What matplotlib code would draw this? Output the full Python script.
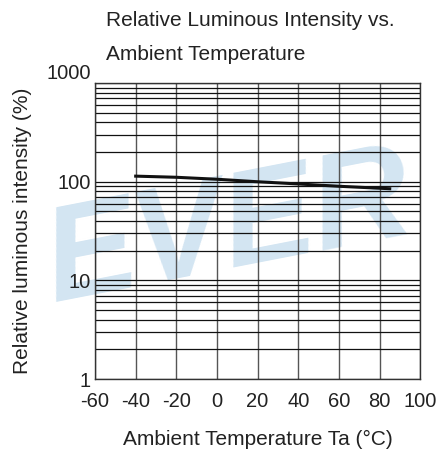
import numpy as np
import matplotlib.pyplot as plt
from matplotlib.ticker import LogLocator, NullFormatter

plt.rcParams['font.family'] = ['Liberation Sans', 'DejaVu Sans']

# values
temp = [-40, -20, 0, 20, 40, 60, 85]
intensity = [114, 111, 106, 100, 95, 90, 85]

x_ticks = [-60, -40, -20, 0, 20, 40, 60, 80, 100]
y_ticks = [1, 10, 100, 1000]
y_labels = ['1', '10', '100', '1000']

fig = plt.figure(figsize=(4.4, 4.54), dpi=100)

# watermark behind the chart
fig.text(0.52, 0.49, 'EVER', color='#d3e5f2', fontsize=98, fontweight='bold',
         fontstyle='italic', ha='center', va='center', rotation=11, zorder=0)

ax = fig.add_axes([0.216, 0.165, 0.739, 0.652])
ax.set_facecolor('none')
ax.set_zorder(2)

ax.set_yscale('log')
ax.set_xlim(-60, 100)
ax.set_ylim(1, 1000)

ax.set_xticks(x_ticks)
ax.set_xticklabels([str(t) for t in x_ticks], fontsize=14.5, color='#222222')
ax.set_yticks(y_ticks)
ax.set_yticklabels(y_labels, fontsize=14.5, color='#222222')
# top label sits on the top line like in the datasheet
ax.get_yticklabels()[-1].set_verticalalignment('bottom')
ax.yaxis.set_minor_locator(LogLocator(base=10, subs=np.arange(2, 10)))
ax.yaxis.set_minor_formatter(NullFormatter())
ax.tick_params(axis='y', which='both', length=0, pad=3)
ax.tick_params(axis='x', which='both', length=0, pad=9)

ax.grid(True, axis='x', color='#555555', linewidth=1.0)
ax.grid(True, axis='y', which='both', color='#111111', linewidth=0.9)
for s in ax.spines.values():
    s.set_color('#333333')
    s.set_linewidth(1.0)

ax.plot(temp, intensity, color='#111111', linewidth=2.2, zorder=3)

ax.set_xlabel('Ambient Temperature Ta (°C)', fontsize=15, color='#222222', labelpad=14)
ax.set_ylabel('Relative luminous intensity (%)', fontsize=15, color='#222222', labelpad=10)

fig.text(106 / 440, 1 - 21 / 454, 'Relative Luminous Intensity vs.', fontsize=15,
         color='#222222', ha='left', va='center')
fig.text(106 / 440, 1 - 55 / 454, 'Ambient Temperature', fontsize=15,
         color='#222222', ha='left', va='center')

fig.savefig('out.png', dpi=100)
